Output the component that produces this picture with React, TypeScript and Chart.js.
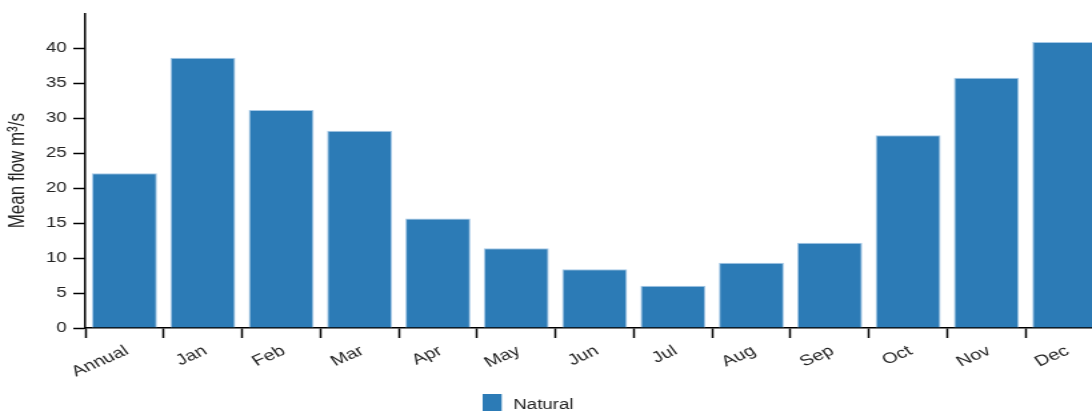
import React, { useEffect, useRef } from "react";
import { Chart, registerables } from "chart.js";

Chart.register(...registerables);

const categories = ["Annual", "Jan", "Feb", "Mar", "Apr", "May", "Jun", "Jul", "Aug", "Sep", "Oct", "Nov", "Dec"];
const naturalFlow = [22.15, 38.66, 31.2, 28.2, 15.66, 11.39, 8.4, 6.06, 9.34, 12.19, 27.56, 35.8, 40.9];
const seriesLabel = "Natural";
const yTitle = "Mean flow m³/s";
const yMax = 45;
const yStep = 5;
const yLastTick = 40;

const BAR_COLOR = "rgb(44,123,182)";
const FONT = "'Liberation Sans', Arial, sans-serif";
const SX = 4 / 3; // horizontal stretch of the reference
const W = 840;
const H = 440;

const legendPlugin = {
  id: "customLegend",
  afterDraw(chart: any) {
    const ctx = chart.ctx;
    const ds = chart.data.datasets[0];
    ctx.save();
    ctx.fillStyle = ds.backgroundColor;
    ctx.fillRect(362, 394, 14.3, 19);
    ctx.fillStyle = "#222";
    ctx.font = `14px ${FONT}`;
    ctx.textAlign = "left";
    ctx.textBaseline = "alphabetic";
    ctx.fillText(ds.label, 385, 409);
    ctx.restore();
  },
};

export default function App() {
  const ref = useRef<HTMLCanvasElement>(null);
  useEffect(() => {
    if (!ref.current) return;
    Chart.defaults.font.family = FONT;
    Chart.defaults.font.size = 14;
    Chart.defaults.color = "#222";
    const chart = new Chart(ref.current, {
      type: "bar",
      data: {
        labels: categories,
        datasets: [
          {
            label: seriesLabel,
            data: naturalFlow,
            backgroundColor: BAR_COLOR,
            borderColor: "rgba(165,200,230,1)",
            borderWidth: 1,
            barPercentage: 0.83,
            categoryPercentage: 1.0,
          },
        ],
      },
      options: {
        responsive: false,
        animation: false,
        layout: { padding: { top: 13, right: 12, left: 0, bottom: 0 } },
        plugins: {
          legend: { display: false },
          tooltip: { enabled: false },
        },
        scales: {
          x: {
            type: "category",
            offset: true,
            grid: {
              offset: true,
              drawOnChartArea: false,
              drawTicks: true,
              tickLength: 10,
              tickColor: "#000",
              tickWidth: 1.5,
            },
            border: { display: true, color: "#000", width: 1.5 },
            ticks: {
              autoSkip: false,
              minRotation: 30,
              maxRotation: 30,
              padding: 4,
              labelOffset: 2,
              color: "#222",
              font: { size: 15, family: FONT },
            },
            afterFit: (scale: any) => {
              scale.height = H - 328;
            },
          },
          y: {
            min: 0,
            max: yMax,
            grid: {
              drawOnChartArea: false,
              drawTicks: true,
              tickLength: 9,
              tickColor: "#000",
              tickWidth: 1.5,
            },
            border: { display: true, color: "#000", width: 1.5 },
            ticks: {
              stepSize: yStep,
              padding: 5,
              color: "#222",
              font: { size: 14, family: FONT },
            },
            afterBuildTicks: (scale: any) => {
              scale.ticks = scale.ticks.filter((t: any) => t.value <= yLastTick);
            },
            title: {
              display: true,
              text: yTitle,
              color: "#222",
              font: { size: 17, family: FONT },
              padding: { top: 3, bottom: 0 },
            },
            afterFit: (scale: any) => {
              scale.width = 64;
            },
          },
        },
      },
      plugins: [legendPlugin],
    });
    return () => chart.destroy();
  }, []);

  return (
    <div
      style={{
        position: "fixed",
        left: 0,
        top: 0,
        width: 1092,
        height: 411,
        overflow: "hidden",
        background: "#fff",
      }}
    >
      <canvas
        ref={ref}
        width={W}
        height={H}
        style={{
          position: "absolute",
          left: 0,
          top: 0,
          width: W,
          height: H,
          transform: `scaleX(${SX})`,
          transformOrigin: "0 0",
        }}
      />
    </div>
  );
}
